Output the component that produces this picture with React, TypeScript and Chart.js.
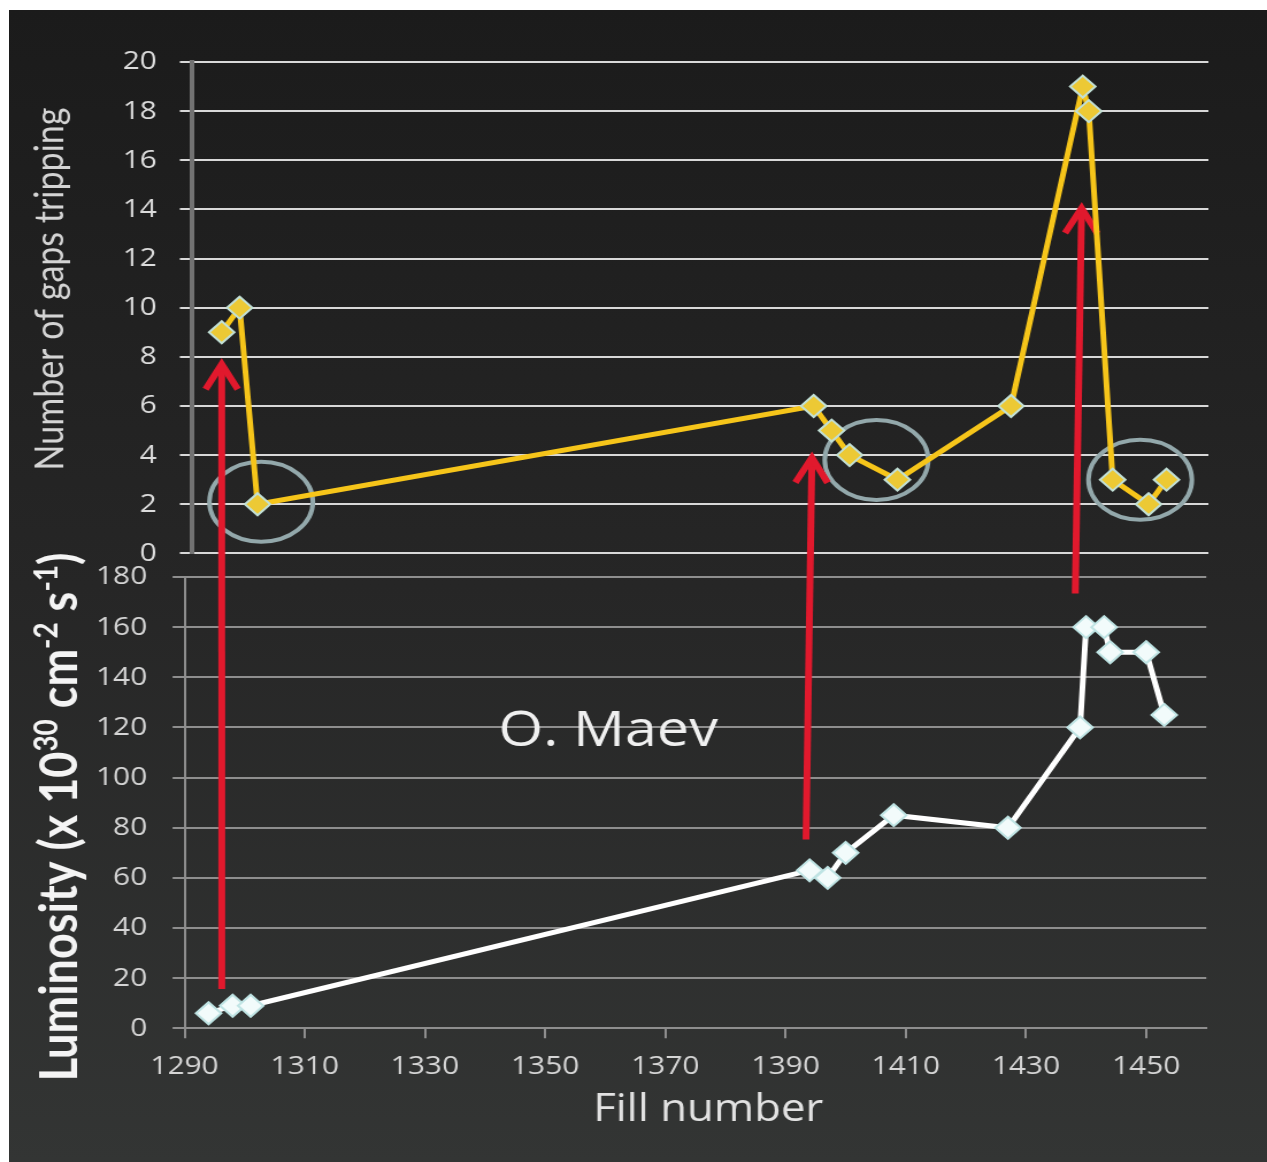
import React, { useEffect, useRef } from 'react';
import { Chart, registerables } from 'chart.js';

Chart.register(...registerables);

// Gap trips per fill (upper panel)
const gapFills = [1295, 1298, 1301, 1394, 1397, 1400, 1408, 1427, 1439, 1440, 1444, 1450, 1453];
const gapCounts = [9, 10, 2, 6, 5, 4, 3, 6, 19, 18, 3, 2, 3];

// Peak luminosity per fill (lower panel), x 10^30 cm^-2 s^-1
const lumiFills = [1294, 1298, 1301, 1394, 1397, 1400, 1408, 1427, 1439, 1440, 1443, 1444, 1450, 1453];
const lumiValues = [6, 9, 9, 63, 60, 70, 85, 80, 120, 160, 160, 150, 150, 125];

// Axis ticks
const fillTicks = [1290, 1310, 1330, 1350, 1370, 1390, 1410, 1430, 1450];
const gapTicks = [0, 2, 4, 6, 8, 10, 12, 14, 16, 18, 20];
const lumiTicks = [0, 20, 40, 60, 80, 100, 120, 140, 160, 180];

// Circled fills with few trips: centre as [fill, gaps]
const circleFills = [1301.6, 1404.5, 1448.6];
const circleGaps = [2.1, 3.8, 3.0];

// Arrows from a luminosity level up to the gap panel
const arrowFromFills = [1296.2, 1393.4, 1438.2];
const arrowFromLumi = [15.7, 75.3, 173.4];
const arrowToFills = [1295.0, 1393.7, 1438.8];
const arrowToGaps = [7.7, 3.9, 14.05];

const PAGE_W = 1267;
const PAGE_H = 1162;
// canvases are drawn narrower and widened by CSS to the page width
const CANVAS_W = 1102;

const tickFont = { family: '"Open Sans", "DejaVu Sans", sans-serif', size: 26 };

function drawArrow(ctx: CanvasRenderingContext2D, x0: number, y0: number, x1: number, y1: number) {
  const ang = Math.atan2(y1 - y0, x1 - x0);
  const bx = Math.cos(ang);
  const by = Math.sin(ang);
  const px = -by;
  const py = bx;
  const headLen = 25;
  const headHalf = 14;
  ctx.beginPath();
  ctx.moveTo(x0, y0);
  ctx.lineTo(x1 - bx * 3, y1 - by * 3);
  ctx.stroke();
  ctx.beginPath();
  ctx.moveTo(x1 - bx * headLen + px * headHalf, y1 - by * headLen + py * headHalf);
  ctx.lineTo(x1, y1);
  ctx.lineTo(x1 - bx * headLen - px * headHalf, y1 - by * headLen - py * headHalf);
  ctx.stroke();
}

type Part = { text: string; sup?: boolean };

function drawVerticalTitle(
  ctx: CanvasRenderingContext2D,
  parts: Part[],
  baseX: number,
  centerY: number,
  size: number,
  weight: string,
  color: string
) {
  const supSize = size * 0.62;
  const fontMain = `${weight} ${size}px Lato, "Open Sans", sans-serif`;
  const fontSup = `${weight} ${supSize}px Lato, "Open Sans", sans-serif`;
  ctx.save();
  let total = 0;
  const widths = parts.map((p) => {
    ctx.font = p.sup ? fontSup : fontMain;
    const w = ctx.measureText(p.text).width;
    total += w;
    return w;
  });
  ctx.translate(baseX, centerY);
  ctx.rotate(-Math.PI / 2);
  ctx.fillStyle = color;
  ctx.textAlign = 'left';
  ctx.textBaseline = 'alphabetic';
  let x = -total / 2;
  parts.forEach((p, i) => {
    ctx.font = p.sup ? fontSup : fontMain;
    ctx.fillText(p.text, x, p.sup ? -size * 0.38 : 0);
    x += widths[i];
  });
  ctx.restore();
}

export default function App() {
  const lumiRef = useRef<HTMLCanvasElement>(null);
  const gapRef = useRef<HTMLCanvasElement>(null);

  useEffect(() => {
    const lumiDecor = {
      id: 'lumiDecor',
      beforeDatasetsDraw(chart: Chart) {
        const ctx = chart.ctx;
        ctx.save();
        ctx.font = '50px "Open Sans", sans-serif';
        ctx.fillStyle = '#f0f0f0';
        ctx.textAlign = 'center';
        ctx.textBaseline = 'alphabetic';
        ctx.fillText('O. Maev', 529, 746);
        ctx.restore();
      },
      afterDraw(chart: Chart) {
        const ctx = chart.ctx;
        ctx.save();
        ctx.font = '38px "Open Sans", sans-serif';
        ctx.fillStyle = '#e2e2e2';
        ctx.textAlign = 'center';
        ctx.textBaseline = 'alphabetic';
        ctx.fillText('Fill number', 616, 1121);
        ctx.restore();
        drawVerticalTitle(
          ctx,
          [
            { text: 'Luminosity (x 10' },
            { text: '30', sup: true },
            { text: ' cm' },
            { text: '-2', sup: true },
            { text: ' s' },
            { text: '-1', sup: true },
            { text: ')' },
          ],
          67,
          817,
          45,
          'bold',
          '#f4f4f4'
        );
      },
    };

    const lumiChart = new Chart(lumiRef.current as HTMLCanvasElement, {
      type: 'line',
      data: {
        datasets: [
          {
            data: lumiFills.map((f, i) => ({ x: f, y: lumiValues[i] })),
            borderColor: '#ffffff',
            borderWidth: 5,
            tension: 0,
            pointStyle: 'rectRot',
            pointRadius: 11,
            pointBackgroundColor: '#f2fbfb',
            pointBorderColor: '#bfe4e4',
            pointBorderWidth: 2,
          },
        ],
      },
      options: {
        responsive: false,
        animation: false,
        devicePixelRatio: 1,
        events: [],
        layout: { padding: { left: 0, top: 577, right: CANVAS_W - 1049.2, bottom: 0 } },
        plugins: { legend: { display: false }, tooltip: { enabled: false } },
        scales: {
          x: {
            type: 'linear',
            min: 1290,
            max: 1460,
            afterFit(s: any) {
              s.height = PAGE_H - 1028.3;
            },
            afterBuildTicks(s: any) {
              s.ticks = fillTicks.map((v) => ({ value: v }));
            },
            ticks: {
              color: '#d6d6d6',
              font: tickFont,
              padding: 13,
              autoSkip: false,
              maxRotation: 0,
              callback: (v: any) => String(v),
            },
            grid: { drawOnChartArea: false, tickLength: 10, color: '#8e8e8e', lineWidth: 2 },
            border: { color: '#8e8e8e', width: 2 },
          },
          y: {
            type: 'linear',
            min: 0,
            max: 180,
            afterFit(s: any) {
              s.width = 160.5;
            },
            afterBuildTicks(s: any) {
              s.ticks = lumiTicks.map((v) => ({ value: v }));
            },
            ticks: { color: '#d6d6d6', font: tickFont, padding: 22, callback: (v: any) => String(v) },
            grid: { color: '#8e8e8e', lineWidth: 2, tickLength: 10.4 },
            border: { color: '#8e8e8e', width: 2 },
          },
        },
      },
      plugins: [lumiDecor],
    } as any);

    const gapDecor = {
      id: 'gapDecor',
      beforeDatasetsDraw(chart: Chart) {
        const ctx = chart.ctx;
        const xs = chart.scales.x;
        const ys = chart.scales.y;
        ctx.save();
        ctx.strokeStyle = '#93a8ab';
        ctx.lineWidth = 4;
        circleFills.forEach((f, i) => {
          ctx.beginPath();
          ctx.ellipse(xs.getPixelForValue(f), ys.getPixelForValue(circleGaps[i]), 45, 40, 0, 0, Math.PI * 2);
          ctx.stroke();
        });
        ctx.strokeStyle = '#e1192d';
        ctx.lineWidth = 6;
        ctx.lineJoin = 'miter';
        ctx.lineCap = 'butt';
        const lx = lumiChart.scales.x;
        const ly = lumiChart.scales.y;
        arrowFromFills.forEach((f, i) => {
          drawArrow(
            ctx,
            lx.getPixelForValue(f),
            ly.getPixelForValue(arrowFromLumi[i]),
            xs.getPixelForValue(arrowToFills[i]),
            ys.getPixelForValue(arrowToGaps[i])
          );
        });
        ctx.restore();
      },
      afterDraw(chart: Chart) {
        drawVerticalTitle(chart.ctx, [{ text: 'Number of gaps tripping' }], 55, 289, 34, 'normal', '#d4d4d4');
      },
    };

    const gapChart = new Chart(gapRef.current as HTMLCanvasElement, {
      type: 'line',
      data: {
        datasets: [
          {
            data: gapFills.map((f, i) => ({ x: f, y: gapCounts[i] })),
            borderColor: '#f6c51a',
            borderWidth: 5,
            tension: 0,
            pointStyle: 'rectRot',
            pointRadius: 11,
            pointBackgroundColor: '#ecc935',
            pointBorderColor: '#c2e0d6',
            pointBorderWidth: 2,
          },
        ],
      },
      options: {
        responsive: false,
        animation: false,
        devicePixelRatio: 1,
        events: [],
        layout: { padding: { left: 0, top: 62, right: CANVAS_W - 1051, bottom: PAGE_H - 553.4 } },
        plugins: { legend: { display: false }, tooltip: { enabled: false } },
        scales: {
          x: { type: 'linear', min: 1290, max: 1460, display: false },
          y: {
            type: 'linear',
            min: 0,
            max: 20,
            afterFit(s: any) {
              s.width = 166.8;
            },
            afterBuildTicks(s: any) {
              s.ticks = gapTicks.map((v) => ({ value: v }));
            },
            ticks: { color: '#dcdcdc', font: tickFont, padding: 20, callback: (v: any) => String(v) },
            grid: { color: '#d8d8d8', lineWidth: 2, tickLength: 10.4 },
            border: { color: '#727272', width: 4 },
          },
        },
      },
      plugins: [gapDecor],
    } as any);

    return () => {
      gapChart.destroy();
      lumiChart.destroy();
    };
  }, []);

  const canvasStyle: React.CSSProperties = {
    position: 'absolute',
    left: 0,
    top: 0,
    width: `${PAGE_W}px`,
    height: `${PAGE_H}px`,
  };

  return (
    <div
      style={{
        position: 'fixed',
        left: 0,
        top: 0,
        width: PAGE_W,
        height: PAGE_H,
        background: '#ffffff',
        overflow: 'hidden',
      }}
    >
      <div
        style={{
          position: 'absolute',
          left: 9,
          top: 10,
          right: 0,
          bottom: 0,
          background: 'linear-gradient(180deg, #1b1b1b 0%, #262626 50%, #333534 100%)',
        }}
      />
      <canvas ref={lumiRef} width={CANVAS_W} height={PAGE_H} style={canvasStyle} />
      <canvas ref={gapRef} width={CANVAS_W} height={PAGE_H} style={canvasStyle} />
    </div>
  );
}
